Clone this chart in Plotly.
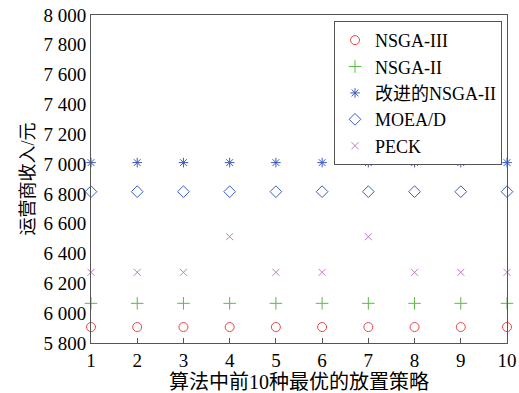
import plotly.graph_objects as go

strategies = list(range(1, 11))
nsga3 = [5907] * 10
nsga2 = [6066] * 10
improved = [7010] * 10
moead = [6815] * 10
peck = [6274, 6274, 6274, 6513, 6274, 6274, 6513, 6274, 6274, 6274]

series = [
    ("NSGA-III", nsga3, "circle-open", "#e8474a", 9),
    ("NSGA-II", nsga2, "cross-thin-open", "#5cba47", 9),
    ("改进的NSGA-II", improved, "asterisk-open", "#3a5cc4", 8),
    ("MOEA/D", moead, "diamond-open", "#3a5cc4", 9),
    ("PECK", peck, "x-thin-open", "#c27ac8", 7),
]

yticks = [5800, 6000, 6200, 6400, 6600, 6800, 7000, 7200, 7400, 7600, 7800, 8000]
yticktext = [f"{v // 1000} {v % 1000:03d}" for v in yticks]

font_fam = "Liberation Serif, Noto Sans CJK SC, serif"

fig = go.Figure()
for name, vals, sym, col, sz in series:
    fig.add_trace(go.Scatter(
        x=strategies, y=vals, mode="markers", name=name,
        marker=dict(symbol=sym, size=sz, color=col, line=dict(color=col, width=1)),
        cliponaxis=False,
    ))

fig.update_layout(
    width=519, height=393,
    margin=dict(l=91, r=12, t=15, b=50),
    paper_bgcolor="white", plot_bgcolor="white",
    font=dict(family=font_fam, size=19, color="black"),
    showlegend=True,
    legend=dict(
        x=0.988, y=0.982, xanchor="right", yanchor="top",
        bordercolor="#555555", borderwidth=1, bgcolor="white",
        font=dict(size=18, family=font_fam), tracegroupgap=0,
        itemwidth=30,
    ),
    xaxis=dict(
        range=[1, 10], tickvals=strategies, ticks="inside", ticklen=5,
        tickcolor="#555555", showline=True, linecolor="#555555", mirror=True,
        showgrid=False, zeroline=False, automargin=False,
        title=dict(text="算法中前10种最优的放置策略", font=dict(size=20), standoff=1),
    ),
    yaxis=dict(
        range=[5800, 8000], tickvals=yticks, ticktext=yticktext, ticks="",
        showline=True, linecolor="#555555", mirror=True,
        showgrid=False, zeroline=False, automargin=False,
        title=dict(text="运营商收入/元", font=dict(size=18), standoff=4),
    ),
)

fig.write_html(
    "out.html",
    config={"displayModeBar": False},
    post_script="document.body.style.margin='0';document.body.style.overflow='hidden';",
)
